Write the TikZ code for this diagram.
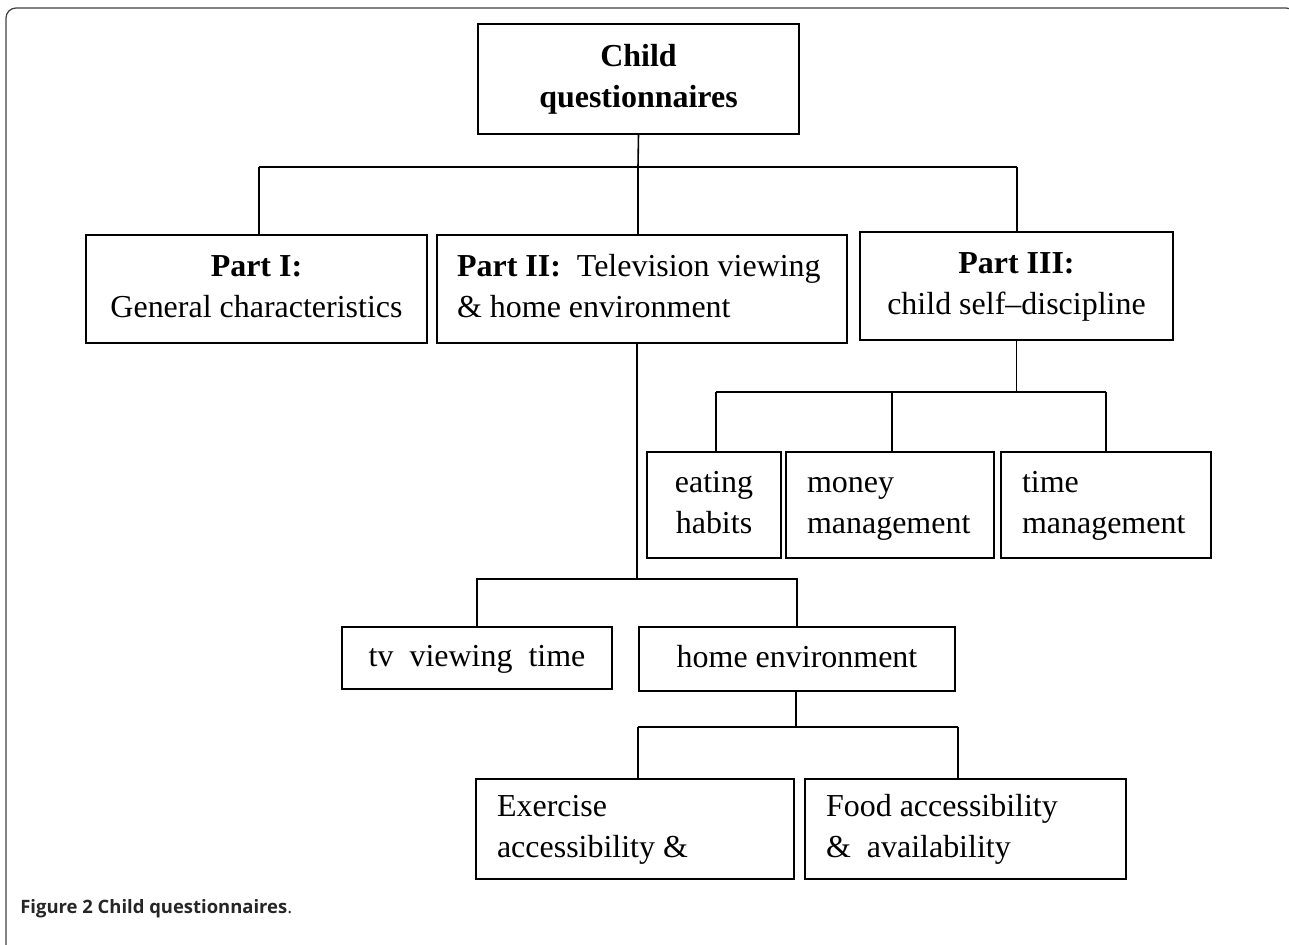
\documentclass[tikz,border=0pt]{standalone}
\usepackage{fontspec}
\setmainfont{Liberation Serif}
\newfontfamily\capfont{Open Sans}
\newcommand{\qfont}{\fontsize{18.2}{23.3}\selectfont}
\newcommand{\lefttext}[2]{\parbox[c]{#1}{\raggedright\strut #2\strut}}

\tikzset{
  qbox/.style={draw, line width=0.9pt, inner sep=0pt, font=\qfont, align=center},
  qleft/.style={draw, line width=0.9pt, inner sep=0pt, font=\qfont},
  link/.style={line width=0.9pt},
}

\begin{document}
\begin{tikzpicture}[x=0.02cm, y=-0.02cm]
        \useasboundingbox (0,0) rectangle (1289,945);
        % Frame
        \draw[line width=0.7pt, black!75, rounded corners=0.2cm] (6,960) -- (6,8) -- (1296,8) -- (1296,960);

        % Draw nodes
        \node[qbox, font=\qfont\bfseries, minimum width=6.42cm, minimum height=2.2cm] (root) at (638.5,79) {\strut Child\\questionnaires\strut};
        \node[qbox, minimum width=6.82cm, minimum height=2.16cm] (partI) at (256.5,289) {\strut\textbf{Part I:}\\General characteristics\strut};
        \node[qleft, minimum width=8.2cm, minimum height=2.16cm] (partII) at (642,289) {\lefttext{7.4cm}{\mbox{\textbf{Part II:}\ \ Television viewing}\\\& home environment}};
        \node[qbox, minimum width=6.26cm, minimum height=2.16cm] (partIII) at (1016.5,286) {\strut\textbf{Part III:}\\child self--discipline\strut};

        \node[qbox, minimum width=2.68cm, minimum height=2.12cm] (eating) at (714,505) {\strut eating\\habits\strut};
        \node[qleft, minimum width=4.16cm, minimum height=2.12cm] (money) at (890,505) {\lefttext{3.32cm}{money\\management}};
        \node[qleft, minimum width=4.2cm, minimum height=2.12cm] (time) at (1106,505) {\lefttext{3.36cm}{time\\management}};

        \node[qbox, minimum width=5.4cm, minimum height=1.24cm] (tv) at (477,658) {\strut tv\ \ viewing\ \ time};
        \node[qbox, minimum width=6.32cm, minimum height=1.28cm] (home) at (797,659) {\strut home environment};

        \node[qleft, minimum width=6.36cm, minimum height=2cm] (exercise) at (635,829) {\lefttext{5.52cm}{Exercise\\accessibility \&}};
        \node[qleft, minimum width=6.42cm, minimum height=2cm] (food) at (965.5,829) {\lefttext{5.58cm}{Food accessibility\\\&\ \ availability}};

        % Bus points
        \coordinate (b1) at (638,167);
        \coordinate (b1l) at (259,167);
        \coordinate (b1r) at (1017,167);
        \coordinate (b2) at (637,579);
        \coordinate (b3) at (796,727);
        \coordinate (b3l) at (638,727);
        \coordinate (b3r) at (958,727);
        \coordinate (b4l) at (716,392);
        \coordinate (b4m) at (892,392);
        \coordinate (b4r) at (1106,392);

        % Draw connections
        \draw[link] (root.south) -- (b1);
        \draw[link] (b1l) -- (b1r);
        \draw[link] (b1l) -- (b1l |- partI.north);
        \draw[link] (b1) -- (b1 |- partII.north);
        \draw[link] (b1r) -- (b1r |- partIII.north);

        \draw[link] (partIII.south) -- (partIII.south |- b4l);
        \draw[link] (b4l) -- (b4r);
        \draw[link] (b4l) -- (b4l |- eating.north);
        \draw[link] (b4m) -- (b4m |- money.north);
        \draw[link] (b4r) -- (b4r |- time.north);

        \draw[link] (b2 |- partII.south) -- (b2);
        \draw[link] (tv.north) |- (b2) -| (home.north);

        \draw[link] (b3 |- home.south) -- (b3);
        \draw[link] (b3l) -- (b3r);
        \draw[link] (b3l) -- (b3l |- exercise.north);
        \draw[link] (b3r) -- (b3r |- food.north);

        % Caption
        \node[anchor=base west, inner sep=0pt, text=black!85, font=\capfont\fontsize{10.5}{12}\selectfont] (caption) at (20,913) {\textbf{Figure 2 Child questionnaires}.};
\end{tikzpicture}
\end{document}
